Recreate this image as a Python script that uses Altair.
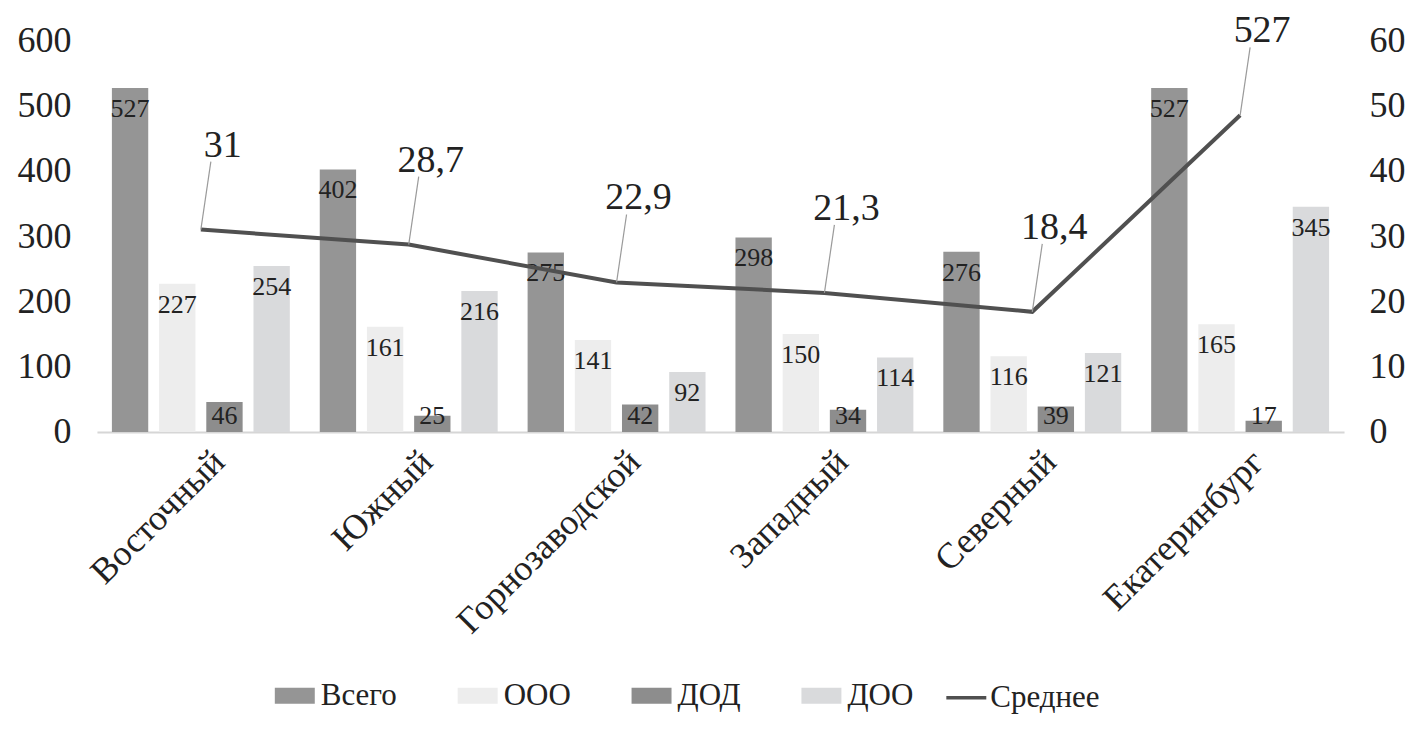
import altair as alt
import pandas as pd

# ---- data ----
regions = ["Восточный", "Южный", "Горнозаводской", "Западный", "Северный", "Екатеринбург"]
series = ["Всего", "ООО", "ДОД", "ДОО"]
vsego = [527, 402, 275, 298, 276, 527]
ooo = [227, 161, 141, 150, 116, 165]
dod = [46, 25, 42, 34, 39, 17]
doo = [254, 216, 92, 114, 121, 345]
avg = [31, 28.7, 22.9, 21.3, 18.4, 48.5]
avg_labels = ["31", "28,7", "22,9", "21,3", "18,4", "527"]
left_ticks = [0, 100, 200, 300, 400, 500, 600]
right_ticks = [0, 10, 20, 30, 40, 50, 60]

bar_colors = ["#959595", "#ededed", "#8d8d8d", "#d9dadc"]
line_color = "#505050"
FONT = "'Liberation Serif', 'Times New Roman', serif"
TXT = "#222222"

rows = []
for i, r in enumerate(regions):
    for s, vals in zip(series, [vsego, ooo, dod, doo]):
        rows.append({"region": r, "series": s, "value": vals[i]})
bars_df = pd.DataFrame(rows)
line_df = pd.DataFrame({"region": regions, "avg": avg, "label": avg_labels,
                        "name": ["Среднее"] * len(regions)})

xscale = alt.Scale(domain=regions, paddingInner=0.144, paddingOuter=0.072)
x_axis = alt.Axis(title=None, labelAngle=-45, labelAlign="right",
                  labelBaseline="top", labelFont=FONT, labelFontSize=36,
                  labelColor=TXT, domainColor="#d6d6d6", domainWidth=2,
                  ticks=False, labelPadding=12, labelLimit=0, labelOffset=6)
x_enc = alt.X("region:N", sort=regions, scale=xscale, axis=x_axis)
xoff = alt.XOffset("series:N", sort=series,
                   scale=alt.Scale(domain=series, paddingInner=0.23, paddingOuter=0))

yleft_scale = alt.Scale(domain=[0, 600], nice=False)
yright_scale = alt.Scale(domain=[0, 60], nice=False)

bars = alt.Chart(bars_df).mark_bar().encode(
    x=x_enc,
    xOffset=xoff,
    y=alt.Y("value:Q", scale=yleft_scale,
            axis=alt.Axis(title=None, values=left_ticks, labelFont=FONT, labelFontSize=36,
                          labelColor=TXT, domain=False, ticks=False, grid=False,
                          labelPadding=26)),
    color=alt.Color("series:N", sort=series,
                    scale=alt.Scale(domain=series, range=bar_colors),
                    legend=alt.Legend(title=None, orient="none", direction="horizontal",
                                      columns=4, legendX=178, legendY=636,
                                      symbolType="M-1,-0.4L1,-0.4L1,0.4L-1,0.4Z",
                                      symbolSize=1600, symbolStrokeWidth=0,
                                      labelFont=FONT, labelFontSize=31, labelColor=TXT,
                                      labelOffset=6, columnPadding=60)),
)

bar_text = alt.Chart(bars_df).transform_calculate(
    ly="max(datum.value - 32, 24)"
).mark_text(font=FONT, fontSize=26, color=TXT, baseline="middle").encode(
    x=x_enc,
    xOffset=xoff,
    y=alt.Y("ly:Q", scale=yleft_scale, axis=None),
    text=alt.Text("value:Q"),
)

line = alt.Chart(line_df).mark_line(strokeWidth=4).encode(
    x=x_enc,
    y=alt.Y("avg:Q", scale=yright_scale,
            axis=alt.Axis(title=None, orient="right", values=right_ticks, labelFont=FONT,
                          labelFontSize=36, labelColor=TXT, domain=False, ticks=False,
                          grid=False, labelPadding=25)),
    stroke=alt.Stroke("name:N", scale=alt.Scale(range=[line_color]),
                      legend=alt.Legend(title=None, orient="none", legendX=848, legendY=636,
                                        symbolType="stroke", symbolSize=1600,
                                        symbolStrokeWidth=3.5, labelFont=FONT,
                                        labelFontSize=31, labelColor=TXT, labelOffset=2)),
)

leaders = alt.Chart(line_df).mark_rule(color="#9a9a9a", strokeWidth=1.2,
                                       x2Offset=10, y2Offset=-68).encode(
    x=x_enc,
    x2=alt.X2("region:N"),
    y=alt.Y("avg:Q", scale=yright_scale, axis=None),
    y2=alt.Y2("avg:Q"),
)

line_text = alt.Chart(line_df).mark_text(font=FONT, fontSize=38, color=TXT,
                                         dx=22, dy=-84, baseline="middle").encode(
    x=x_enc,
    y=alt.Y("avg:Q", scale=yright_scale, axis=None),
    text="label:N",
)

chart = alt.layer(bars, bar_text, line, leaders, line_text).resolve_scale(
    y="independent"
).properties(
    width=1248, height=392,
    autosize=alt.AutoSizeParams(type="none"),
    padding={"left": 89, "top": 32, "right": 70, "bottom": 285},
    background="white",
).configure_view(stroke=None)

chart.save("out.html", embed_options={"renderer": "svg", "actions": False})
